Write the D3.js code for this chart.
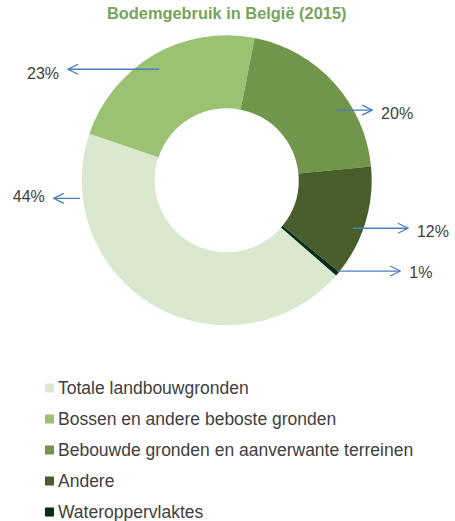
<!DOCTYPE html>
<html lang="nl">
    <head>
        <meta charset="utf-8">
        <title>Bodemgebruik in België (2015)</title>
        <script type="text/javascript" src="https://cdn.jsdelivr.net/npm/d3@7"></script>
        <style type="text/css">
            body { margin: 0; background: #fff; }
            text { font-family: Arial, "Liberation Sans", sans-serif; }
        </style>
    </head>

    <body>
        <script type="text/javascript">
            // Data (share of the total surface, %)
            var categories = ["Totale landbouwgronden", "Bossen en andere beboste gronden",
                              "Bebouwde gronden en aanverwante terreinen", "Andere", "Wateroppervlaktes"];
            var values = [43.8, 22.9, 20.4, 12.4, 0.5];
            var labels = ["44%", "23%", "20%", "12%", "1%"];
            var colors = ["#dae8cf", "#9bc273", "#71954a", "#4a5e2c", "#062d18"];

            // Where each label arrow leaves its slice (fraction of slice, radius), its length,
            // and a small vertical shift of the text against the arrow
            var labelLayout = [
                { t: 0.837, r: 148, len: -26, dy: -2 },
                { t: 0.485, r: 130, len: -91, dy: 4 },
                { t: 0.629, r: 130, len: 36, dy: 3.5 },
                { t: 0.588, r: 135, len: 55, dy: 3.5 },
                { t: 0.1, r: 143, len: 63, dy: 1 }
            ];

            var w = 455;
            var h = 521;
            var cx = 226.7, cy = 180.3;
            var outerR = 145, innerR = 72;
            var deg = Math.PI / 180;

            var svg = d3.select("body")
                    .append("svg")
                    .attr("width", w)
                    .attr("height", h);

            // arrow marker (open V)
            svg.append("defs").append("marker")
                .attr("id", "arrow")
                .attr("viewBox", "0 0 12 12")
                .attr("refX", 11)
                .attr("refY", 6)
                .attr("markerWidth", 12)
                .attr("markerHeight", 12)
                .attr("markerUnits", "userSpaceOnUse")
                .attr("orient", "auto")
                .append("path")
                .attr("d", "M1,1 L11,6 L1,11")
                .attr("fill", "none")
                .attr("stroke", "#4a7ebf")
                .attr("stroke-width", 1.3);

            // Title
            svg.append("text")
                .attr("x", cx)
                .attr("y", 19)
                .attr("text-anchor", "middle")
                .attr("font-size", "16.4px")
                .attr("font-weight", "bold")
                .attr("fill", "#77a35b")
                .text("Bodemgebruik in België (2015)");

            var pie = d3.pie()
                .sort(null)
                .startAngle(131 * deg)
                .endAngle(131 * deg + 2 * Math.PI);

            var arcs = pie(values);

            var arc = d3.arc()
                .innerRadius(innerR)
                .outerRadius(outerR);

            var g = svg.append("g")
                .attr("transform", "translate(" + cx + "," + cy + ")");

            g.selectAll("path.slice")
                .data(arcs)
                .enter()
                .append("path")
                .attr("class", "slice")
                .attr("d", arc)
                .attr("fill", function(d, i) { return colors[i]; });

            // Label arrows + texts
            arcs.forEach(function(d, i) {
                var L = labelLayout[i];
                var a = d.startAngle + L.t * (d.endAngle - d.startAngle);
                var x0 = L.r * Math.sin(a);
                var y0 = -L.r * Math.cos(a);
                var x1 = x0 + L.len;
                g.append("line")
                    .attr("x1", x0).attr("y1", y0)
                    .attr("x2", x1).attr("y2", y0)
                    .attr("stroke", "#4a7ebf")
                    .attr("stroke-width", 1.3)
                    .attr("marker-end", "url(#arrow)");
                var right = L.len > 0;
                g.append("text")
                    .attr("x", right ? x1 + 9 : x1 - 9)
                    .attr("y", y0 + L.dy)
                    .attr("dy", "0.35em")
                    .attr("text-anchor", right ? "start" : "end")
                    .attr("font-size", "16px")
                    .attr("fill", "#404040")
                    .text(labels[i]);
            });

            // Legend
            var legend = svg.append("g")
                .attr("transform", "translate(45,388)");

            var item = legend.selectAll("g")
                .data(categories)
                .enter()
                .append("g")
                .attr("transform", function(d, i) { return "translate(0," + (i * 31) + ")"; });

            item.append("rect")
                .attr("x", 0)
                .attr("y", -4.5)
                .attr("width", 9)
                .attr("height", 9)
                .attr("fill", function(d, i) { return colors[i]; });

            item.append("text")
                .attr("x", 13)
                .attr("y", 0)
                .attr("dy", "0.35em")
                .attr("font-size", "17.5px")
                .attr("fill", "#404040")
                .text(function(d) { return d; });
        </script>
    </body>
</html>
